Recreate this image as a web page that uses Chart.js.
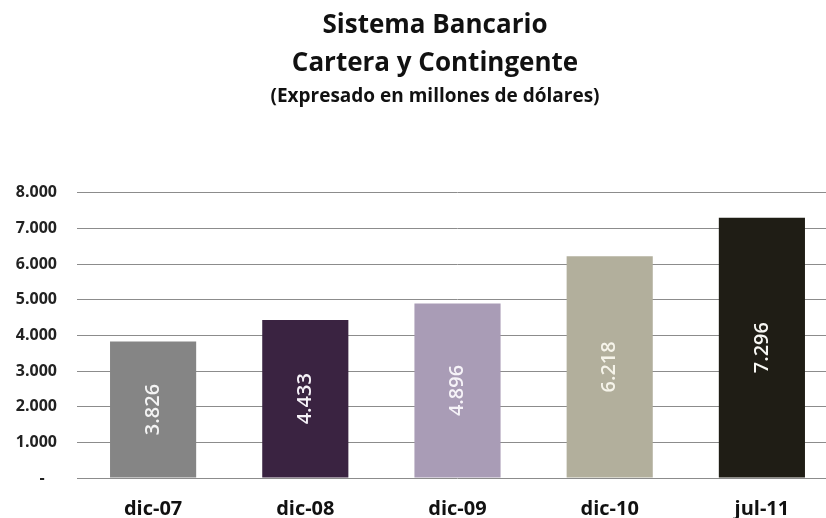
<!DOCTYPE html>
<html>
<head>
<meta charset="utf-8">
<script src="https://cdn.jsdelivr.net/npm/chart.js@4.4.0/dist/chart.umd.min.js"></script>
<style>
    html, body { margin: 0; padding: 0; background: #fff; overflow: hidden; }
    #wrap { width: 870px; height: 541px; }
</style>
</head>
<body>
<div id="wrap"><canvas id="chart" width="870" height="541"></canvas></div>
<script>
const categories = ['dic-07', 'dic-08', 'dic-09', 'dic-10', 'jul-11'];
const values = [3826, 4433, 4896, 6218, 7296];
const barColors = ['#858585', '#3a2341', '#a99cb6', '#b2af9c', '#1f1d15'];
const labelColors = ['#f4f4f4', '#f6f2f8', '#f6f3f8', '#f6f4ea', '#f8f8f4'];
const titleLines = ['Sistema Bancario', 'Cartera y Contingente'];
const subtitleText = '(Expresado en millones de dólares)';

function fmt(v) {
    return String(Math.round(v)).replace(/\B(?=(\d{3})+(?!\d))/g, '.');
}

// rotated value labels in the middle of each bar
const barLabels = {
    id: 'barLabels',
    afterDatasetsDraw(chart) {
        const ctx = chart.ctx;
        const meta = chart.getDatasetMeta(0);
        ctx.save();
        ctx.font = '600 20px "Open Sans"';
        ctx.textAlign = 'center';
        ctx.textBaseline = 'middle';
        meta.data.forEach((bar, i) => {
            const mid = (bar.y + bar.base) / 2;
            ctx.save();
            ctx.translate(bar.x, mid);
            ctx.rotate(-Math.PI / 2);
            ctx.fillStyle = labelColors[i];
            ctx.fillText(fmt(values[i]), 0, 0);
            ctx.restore();
        });
        ctx.restore();
    }
};

// the original title is centred a bit right of the plot, shift the title boxes
const titleShift = {
    id: 'titleShift',
    afterLayout(chart) {
        chart.boxes.forEach(b => {
            if (b.position === 'top' && b.options && b.options.text !== undefined) {
                b.left = 32;
            }
        });
    }
};

new Chart(document.getElementById('chart').getContext('2d'), {
    type: 'bar',
    data: {
        labels: categories,
        datasets: [{
            data: values,
            backgroundColor: barColors,
            barPercentage: 0.566,
            categoryPercentage: 1
        }]
    },
    options: {
        responsive: false,
        animation: false,
        layout: { padding: { left: 0, right: 32, top: 0, bottom: 1 } },
        plugins: {
            legend: { display: false },
            tooltip: { enabled: false },
            title: {
                display: true,
                text: titleLines,
                color: '#111',
                font: { family: 'Open Sans', size: 26, weight: 'bold', lineHeight: 1.46 },
                padding: { top: 7, bottom: 0 }
            },
            subtitle: {
                display: true,
                text: subtitleText,
                color: '#111',
                font: { family: 'Open Sans', size: 19, weight: 'bold', lineHeight: 1.2 },
                padding: { top: 2, bottom: 85 }
            }
        },
        scales: {
            x: {
                grid: { display: false, drawTicks: false },
                border: { display: false },
                ticks: {
                    color: '#111',
                    font: { family: 'Open Sans', size: 20, weight: 'bold' },
                    padding: 19
                }
            },
            y: {
                min: 0,
                max: 8000,
                afterFit(scale) { scale.width = 77; },
                grid: { color: '#8c8c8c', lineWidth: 1, drawTicks: false },
                border: { display: false },
                ticks: {
                    stepSize: 1000,
                    padding: 20,
                    color: '#222',
                    font: { family: 'Open Sans', size: 16, weight: 'bold' },
                    callback: v => v === 0 ? '-   ' : fmt(v)
                }
            }
        }
    },
    plugins: [barLabels, titleShift]
});
</script>
</body>
</html>
